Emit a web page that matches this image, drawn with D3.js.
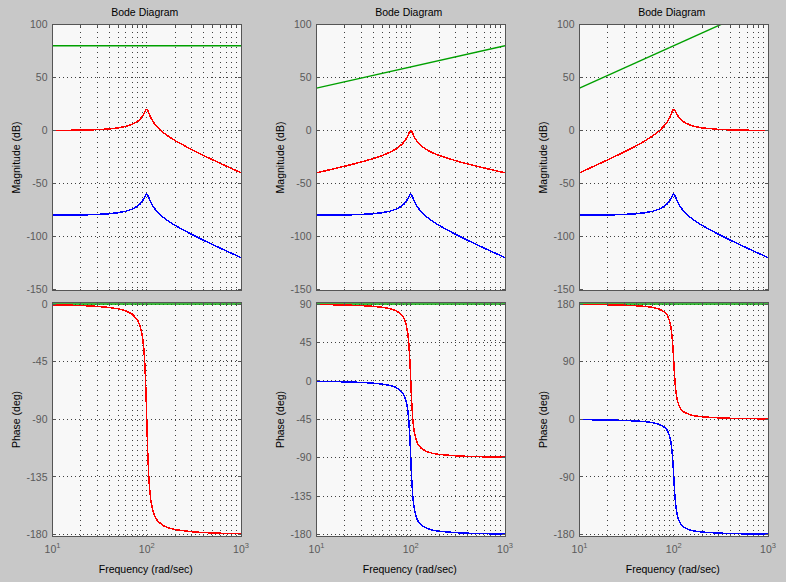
<!DOCTYPE html>
<html>
<head>
<meta charset="utf-8">
<script src="https://cdn.jsdelivr.net/npm/d3@7"></script>
<style>
  html, body { margin: 0; padding: 0; background: #c8c8c8; }
  svg { display: block; }
  text { font-family: "Liberation Sans", Arial, Helvetica, sans-serif; }
</style>
</head>
<body>
<svg id="chart" width="786" height="582"></svg>
<script>
// ---------------- DATA ----------------
const freq = [10, 12, 15, 20, 25, 30, 40, 50, 60, 70, 80, 85, 90, 93, 95, 97, 98, 99, 100,
  101, 102, 103, 105, 107, 110, 115, 120, 130, 150, 170, 200, 300, 400, 500, 700, 1000];

// blue system (same in all three panels)
const blueMag = [-79.91, -79.88, -79.80, -79.65, -79.44, -79.19, -78.50, -77.52, -76.16, -74.23,
  -71.34, -69.25, -66.45, -64.30, -62.68, -61.11, -60.48, -60.08, -60.00,
  -60.26, -60.81, -61.56, -63.33, -65.11, -67.50, -70.69, -73.18, -76.93, -82.00, -85.56,
  -89.56, -98.07, -103.52, -107.61, -113.63, -119.91];
const bluePhase = [-0.58, -0.70, -0.88, -1.19, -1.53, -1.89, -2.73, -3.81, -5.36, -7.82,
  -12.53, -17.03, -25.35, -34.54, -44.26, -58.65, -68.00, -78.63, -90.00,
  -101.26, -111.61, -120.59, -134.31, -143.56, -152.35, -160.37, -164.74, -169.33, -173.16, -174.86,
  -176.19, -177.85, -178.47, -178.81, -179.16, -179.42];

// red system, panel 1
const red1Mag = [0.09, 0.13, 0.20, 0.35, 0.56, 0.81, 1.50, 2.48, 3.84, 5.77,
  8.66, 10.75, 13.55, 15.70, 17.32, 18.89, 19.52, 19.92, 20.00,
  19.74, 19.19, 18.44, 16.67, 14.89, 12.50, 9.31, 6.82, 3.07, -2.00, -5.56,
  -9.56, -18.07, -23.52, -27.61, -33.63, -39.91];
const red1Phase = [-0.58, -0.70, -0.88, -1.19, -1.53, -1.89, -2.73, -3.81, -5.36, -7.82,
  -12.53, -17.03, -25.35, -34.54, -44.26, -58.65, -68.00, -78.63, -90.00,
  -101.26, -111.61, -120.59, -134.31, -143.56, -152.35, -160.37, -164.74, -169.33, -173.16, -174.86,
  -176.19, -177.85, -178.47, -178.81, -179.16, -179.42];

// red system, panel 2
const red2Mag = [-39.91, -38.30, -36.28, -33.63, -31.48, -29.65, -26.46, -23.54, -20.60, -17.33,
  -13.28, -10.66, -7.37, -4.93, -3.13, -1.37, -0.66, -0.17, 0.00,
  -0.17, -0.64, -1.30, -2.91, -4.52, -6.67, -9.48, -11.60, -14.65, -18.48, -20.95,
  -23.54, -28.53, -31.48, -33.63, -36.73, -39.91];
const red2Phase = [89.42, 89.30, 89.12, 88.81, 88.47, 88.11, 87.27, 86.19, 84.64, 82.18,
  77.47, 72.97, 64.65, 55.46, 45.74, 31.35, 22.00, 11.37, 0.00,
  -11.26, -21.61, -30.59, -44.31, -53.56, -62.35, -70.37, -74.74, -79.33, -83.16, -84.86,
  -86.19, -87.85, -88.47, -88.81, -89.16, -89.42];

// red system, panel 3
const red3Mag = [-39.91, -36.71, -32.76, -27.61, -23.52, -20.11, -14.42, -9.56, -5.03, -0.43,
  4.78, 7.93, 11.72, 14.44, 16.43, 18.36, 19.17, 19.75, 20.00,
  19.91, 19.53, 18.95, 17.52, 16.06, 14.16, 11.74, 9.99, 7.63, 5.04, 3.66,
  2.48, 1.01, 0.56, 0.35, 0.17, 0.09];
const red3Phase = [179.42, 179.30, 179.12, 178.81, 178.47, 178.11, 177.27, 176.19, 174.64, 172.18,
  167.47, 162.97, 154.65, 145.46, 135.74, 121.35, 112.00, 101.37, 90.00,
  78.74, 68.39, 59.41, 45.69, 36.44, 27.65, 19.63, 15.26, 10.67, 6.84, 5.14,
  3.81, 2.15, 1.53, 1.19, 0.84, 0.58];

// green system (straight lines)
const greenFreq = [10, 1000];
const green1Mag = [80, 80];
const green1Phase = [0, 0];
const green2Mag = [40, 80];
const green2Phase = [90, 90];
const green3Mag = [40, 120];
const green3Phase = [180, 180];

// ticks
const xTicks = [10, 100, 1000];
const xTickExp = ["1", "2", "3"];
const xMinor = [20, 30, 40, 50, 60, 70, 80, 90, 200, 300, 400, 500, 600, 700, 800, 900];
const magTicks = [100, 50, 0, -50, -100, -150];
const phaseTicks1 = [0, -45, -90, -135, -180];
const phaseTicks2 = [90, 45, 0, -45, -90, -135, -180];
const phaseTicks3 = [180, 90, 0, -90, -180];

const titleText = "Bode Diagram";
const magLabel = "Magnitude (dB)";
const phaseLabel = "Phase (deg)";
const freqLabel = "Frequency (rad/sec)";

// ---------------- LAYOUT ----------------
const panels = [
  { left: 52.5, redMag: red1Mag, redPhase: red1Phase, gMag: green1Mag, gPhase: green1Phase, pTicks: phaseTicks1 },
  { left: 316.5, redMag: red2Mag, redPhase: red2Phase, gMag: green2Mag, gPhase: green2Phase, pTicks: phaseTicks2 },
  { left: 579.5, redMag: red3Mag, redPhase: red3Phase, gMag: green3Mag, gPhase: green3Phase, pTicks: phaseTicks3 }
];
const plotW = 188.5;
const magBox = { top: 24.5, bottom: 290.5, yTop: 24.5, yBot: 289.5 };
const phBox = { top: 302.5, bottom: 536.5, yTop: 304, yBot: 534.5 };

const C = { blue: "#0000ff", green: "#00a000", red: "#ff0000", grid: "#404040", axis: "#555555", tick: "#5a5a5a", bg: "#f8f8f8" };
const FS = 10.5;

const svg = d3.select("#chart");
svg.append("rect").attr("width", 786).attr("height", 582).attr("fill", "#c8c8c8");

panels.forEach((p, i) => {
  const x = d3.scaleLog().domain([10, 1000]).range([p.left, p.left + plotW]);

  const subplots = [
    { box: magBox, domain: [-150, 100], ticks: magTicks, label: magLabel,
      series: [ { f: freq, v: blueMag, c: C.blue, crisp: true }, { f: greenFreq, v: p.gMag, c: C.green, crisp: false }, { f: freq, v: p.redMag, c: C.red, crisp: true } ] },
    { box: phBox, domain: [d3.min(p.pTicks), d3.max(p.pTicks)], ticks: p.pTicks, label: phaseLabel,
      series: [ { f: freq, v: bluePhase, c: C.blue, crisp: true }, { f: greenFreq, v: p.gPhase, c: C.green, crisp: false }, { f: freq, v: p.redPhase, c: C.red, crisp: true } ] }
  ];

  subplots.forEach((sp, j) => {
    const b = sp.box;
    const y = d3.scaleLinear().domain(sp.domain).range([b.yBot, b.yTop]);
    const g = svg.append("g");
    const clipId = `clip-${i}-${j}`;
    g.append("clipPath").attr("id", clipId).append("rect")
      .attr("x", p.left).attr("y", b.top).attr("width", plotW).attr("height", b.bottom - b.top);

    g.append("rect").attr("x", p.left).attr("y", b.top).attr("width", plotW).attr("height", b.bottom - b.top)
      .attr("fill", C.bg);

    // grid
    const grid = g.append("g").attr("stroke", C.grid).attr("stroke-width", 1)
      .attr("stroke-dasharray", "1,4").attr("shape-rendering", "crispEdges");
    xMinor.concat([100]).forEach(fv => {
      const xx = Math.round(x(fv) - 0.5) + 0.5;
      grid.append("line").attr("x1", xx).attr("x2", xx).attr("y1", b.top + 2).attr("y2", b.bottom - 1);
    });
    sp.ticks.forEach(tv => {
      const yy = Math.round(y(tv) - 0.5) + 0.5;
      if (yy <= b.top + 1 || yy >= b.bottom - 1) return;
      grid.append("line").attr("x1", p.left + 2).attr("x2", p.left + plotW - 1).attr("y1", yy).attr("y2", yy)
        .attr("stroke-dasharray", "1,3");
    });

    // curves
    const line = d3.line().x(d => x(d[0])).y(d => y(d[1]));
    const curves = g.append("g").attr("clip-path", `url(#${clipId})`);
    sp.series.forEach(s => {
      curves.append("path").datum(s.f.map((fv, k) => [fv, s.v[k]]))
        .attr("d", line).attr("fill", "none").attr("stroke", s.c)
        .attr("stroke-width", s.crisp ? 1.5 : 1.4)
        .attr("shape-rendering", s.crisp ? "crispEdges" : "geometricPrecision");
    });

    // box
    g.append("rect").attr("x", p.left).attr("y", b.top).attr("width", plotW).attr("height", b.bottom - b.top)
      .attr("fill", "none").attr("stroke", C.axis).attr("stroke-width", 1).attr("shape-rendering", "crispEdges");

    // tick marks
    const tk = g.append("g").attr("stroke", C.axis).attr("stroke-width", 1).attr("shape-rendering", "crispEdges");
    xMinor.concat(xTicks).forEach(fv => {
      const xx = Math.round(x(fv) - 0.5) + 0.5;
      tk.append("line").attr("x1", xx).attr("x2", xx).attr("y1", b.top).attr("y2", b.top + 2);
      tk.append("line").attr("x1", xx).attr("x2", xx).attr("y1", b.bottom).attr("y2", b.bottom - 2);
    });
    sp.ticks.forEach(tv => {
      const yy = Math.round(y(tv) - 0.5) + 0.5;
      tk.append("line").attr("x1", p.left).attr("x2", p.left + 3).attr("y1", yy).attr("y2", yy);
      tk.append("line").attr("x1", p.left + plotW).attr("x2", p.left + plotW - 3).attr("y1", yy).attr("y2", yy);
    });

    // y tick labels
    sp.ticks.forEach(tv => {
      g.append("text").attr("x", p.left - 5).attr("y", y(tv)).attr("dy", "0.36em")
        .attr("text-anchor", "end").attr("font-size", FS).attr("fill", C.tick).text(String(tv));
    });

    // y label
    g.append("text")
      .attr("transform", `translate(${p.left - 33},${(b.top + b.bottom) / 2}) rotate(-90)`)
      .attr("text-anchor", "middle").attr("font-size", FS).attr("fill", "#000").text(sp.label);
  });

  // title
  svg.append("text").attr("x", p.left + plotW / 2 - 2).attr("y", 15.5)
    .attr("text-anchor", "middle").attr("font-size", FS).attr("fill", "#000").text(titleText);

  // x tick labels
  xTicks.forEach((tv, k) => {
    const t = svg.append("text").attr("x", x(tv)).attr("y", 553)
      .attr("text-anchor", "middle").attr("font-size", FS).attr("fill", C.tick);
    t.append("tspan").text("10");
    t.append("tspan").attr("dy", -5).attr("font-size", 7.5).text(xTickExp[k]);
  });

  // x label
  svg.append("text").attr("x", p.left + plotW / 2 - 1).attr("y", 572.5)
    .attr("text-anchor", "middle").attr("font-size", FS).attr("fill", "#000").text(freqLabel);
});
</script>
</body>
</html>
